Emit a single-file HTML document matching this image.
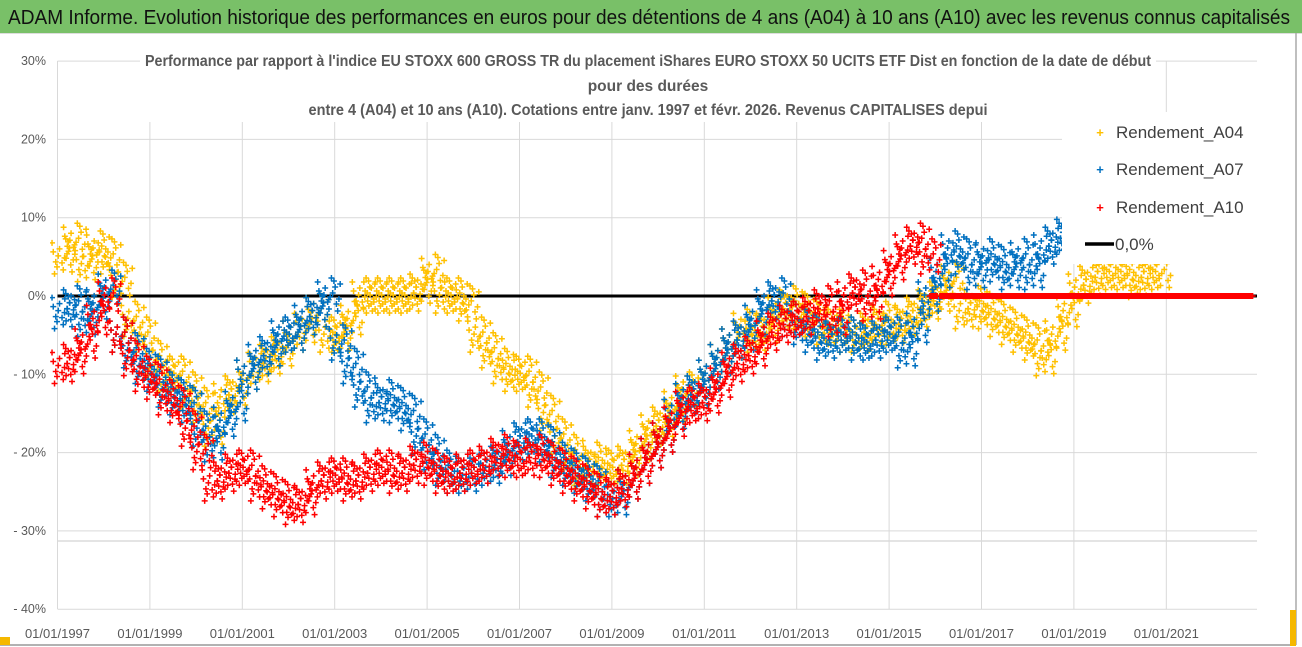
<!DOCTYPE html>
<html><head><meta charset="utf-8">
<style>
html,body{margin:0;padding:0;background:#fff;}
svg{display:block;font-family:"Liberation Sans Narrow","Liberation Sans",sans-serif;}
</style></head>
<body>
<svg id="chart" width="1302" height="647" viewBox="0 0 1302 647">
  <defs><clipPath id="plotclip"><rect x="50" y="40" width="1207" height="580"/></clipPath></defs>
  <rect x="0" y="0" width="1302" height="647" fill="#fff"/>
  <rect x="0" y="0" width="1302" height="33" fill="#79c068"/>
  <line x1="0" y1="33.5" x2="1302" y2="33.5" stroke="#ddd" stroke-width="1"/>
  <text x="8" y="24" font-size="20" fill="#111" textLength="1282" lengthAdjust="spacingAndGlyphs">ADAM Informe. Evolution historique des performances en euros pour des détentions de 4 ans (A04) à 10 ans (A10) avec les revenus connus capitalisés</text>
  <line x1="1296" y1="33" x2="1296" y2="645" stroke="#aaa" stroke-width="1.5"/>
  <line x1="0" y1="645" x2="1296" y2="645" stroke="#999" stroke-width="1.5"/>
  <rect x="1290" y="610" width="6" height="36" fill="#f5b800"/>
  <rect x="0" y="637" width="10" height="8" fill="#f5b800"/>
  <g id="grid"></g>
  <g id="ylabels"></g>
  <g id="xlabels"></g>
  <g id="marks" clip-path="url(#plotclip)"></g>
  <rect x="140" y="46" width="1016" height="76" fill="#fff"/>
  <g fill="#595959" font-size="15.5" font-weight="bold" text-anchor="middle">
    <text x="648" y="66" textLength="1006" lengthAdjust="spacingAndGlyphs">Performance par rapport à l'indice EU STOXX 600 GROSS TR  du placement iShares EURO STOXX 50 UCITS ETF Dist en fonction de la date de début</text>
    <text x="648" y="91">pour des durées</text>
    <text x="648" y="115" textLength="679" lengthAdjust="spacingAndGlyphs">entre 4 (A04) et 10 ans (A10). Cotations entre janv. 1997 et févr. 2026. Revenus CAPITALISES depui</text>
  </g>
  <g id="legend">
    <rect x="1062" y="112" width="195" height="152" fill="#fff"/>
    <g>
      <text x="1100" y="137" font-size="13" fill="#FFC000" text-anchor="middle" font-weight="bold">+</text>
      <text x="1116" y="138" font-size="17" fill="#404040">Rendement_A04</text>
    </g>
    <g>
      <text x="1100" y="174" font-size="13" fill="#0070C0" text-anchor="middle" font-weight="bold">+</text>
      <text x="1116" y="175" font-size="17" fill="#404040">Rendement_A07</text>
    </g>
    <g>
      <text x="1100" y="212" font-size="13" fill="#FF0000" text-anchor="middle" font-weight="bold">+</text>
      <text x="1116" y="213" font-size="17" fill="#404040">Rendement_A10</text>
    </g>
    <g>
      <line x1="1085" y1="244" x2="1114" y2="244" stroke="#000" stroke-width="3.5"/>
      <text x="1115" y="250" font-size="17" fill="#404040">0,0%</text>
    </g>
  </g>
</svg>
<script>
const yTicks = [30, 20, 10, 0, -10, -20, -30, -40];
const yTickLabels = ["30%", "20%", "10%", "0%", "- 10%", "- 20%", "- 30%", "- 40%"];
const xTickYears = [1997, 1999, 2001, 2003, 2005, 2007, 2009, 2011, 2013, 2015, 2017, 2019, 2021];
const xTickLabels = ["01/01/1997","01/01/1999","01/01/2001","01/01/2003","01/01/2005","01/01/2007","01/01/2009","01/01/2011","01/01/2013","01/01/2015","01/01/2017","01/01/2019","01/01/2021"];
const startYear = 1997;
const a04 = [5,7,4,6, 5,2,-3,-5, -8,-10,-10,-12, -14,-17,-13,-12, -10,-9,-8,-7, -5,-4,-2,-5, -5,-3,0,0, 0,0,0,1, 3,0,0,-1, -5,-7,-9,-10, -10,-12,-15,-18, -20,-22,-21,-22, -22,-21,-19,-17, -16,-14,-12,-12, -10,-8,-6,-4, -5,-4,-2,-1, -2,-3,-4,-4, -5,-5,-4,-3, -4,-3,-2,-1, 0,2,-2,-1, -2,-3,-4,-5, -6,-8,-5,-2, 1,2,3,3, 3,2,3,3];
const a07 = [-2,-1,-3,-1, 1,-5,-7,-9, -10,-12,-13,-14, -17,-19,-16,-14, -10,-8,-7,-5, -5,-3,-2,0, -6,-9,-12,-14, -13,-14,-15,-18, -20,-22,-23,-23, -22,-22,-21,-19, -18,-18,-19,-21, -22,-23,-24,-26, -26,-24,-22,-20, -18,-15,-13,-12, -10,-8,-6,-5, -3,-1,0,-3, -4,-5,-6,-5, -5,-6,-6,-5, -5,-7,-4,0, 3,6,5,3, 5,4,3,5, 3,6,7,8, 8];
const a10 = [-9,-8,-6,-3, 0,-5,-8,-10, -11,-13,-14,-17, -20,-24,-23,-22, -22,-24,-25,-26, -27,-26,-24,-23, -23,-24,-23,-22, -22,-23,-22,-21, -22,-23,-23,-22, -22,-21,-20,-21, -21,-20,-21,-22, -23,-24,-25,-26, -25,-24,-22,-20, -18,-16,-14,-14, -13,-11,-9,-8, -7,-5,-4,-3, -3,-2,-1,-3, 0,1,-1,2, 4,6,7,5, 0,0,0,0, 0,0,0,0, 0,0,0,0, 0,0,0,0, 0,0,0,0, 0,0,0,0, 0,0,0];

const NS = "http://www.w3.org/2000/svg";
const X0 = 57.5, PXY = 46.2, PLOT_R = 1257;
function xScale(year){ return X0 + (year - startYear) * PXY; }
function yScale(v){ return 296 - v * 7.83; }
function mk(tag, attrs, parent){ const e = document.createElementNS(NS, tag); for (const k in attrs) e.setAttribute(k, attrs[k]); parent.appendChild(e); return e; }

const grid = document.getElementById('grid');
yTicks.forEach((t, i) => {
  const l = mk('line', {x1: X0, x2: PLOT_R, y1: yScale(t), y2: yScale(t), stroke: '#d9d9d9', 'stroke-width': 1}, grid);
  
  
  const tx = mk('text', {x: 46, y: yScale(t) + 4, 'font-size': 12.5, fill: '#595959', 'text-anchor': 'end'}, document.getElementById('ylabels'));
  tx.textContent = yTickLabels[i];
  
  
});
const extra = mk('line', {x1: X0, x2: PLOT_R, y1: 541, y2: 541, stroke: '#c8c8c8', 'stroke-width': 1}, grid);


xTickYears.forEach((yr, i) => {
  const l = mk('line', {x1: xScale(yr), x2: xScale(yr), y1: 61, y2: 609, stroke: '#d9d9d9', 'stroke-width': 1}, grid);
  
  
  const tx = mk('text', {x: xScale(yr), y: 638, 'font-size': 13, fill: '#595959', 'text-anchor': 'middle'}, document.getElementById('xlabels'));
  tx.textContent = xTickLabels[i];
  
  
});

const marks = document.getElementById('marks');
const cluster = [[-9,-14],[-6,5],[-3,-8],[0,13],[3,-3],[6,8],[9,-12],[-7,17],[2,-18],[8,3],[-4,-1],[5,-9],[-1,6],[-8,-5],[7,15],[1,1],[-5,10],[4,-15]];
function drawSeries(vals, color, name){
  const g = mk('g', {stroke: color, 'stroke-width': 1.5}, marks);
  
  
  let d = '';
  vals.forEach((v, i) => {
    const cx = xScale(startYear + i * 0.25 + 0.125), cy = yScale(v);
    const spread = v === 0 && name === 'series-a10' && i >= 76 ? 0 : 1;
    cluster.forEach(([dx, dy]) => {
      const px = cx + dx * 1.25, py = cy + dy * spread;
      d += `M${px-3},${py}h6M${px},${py-3}v6`;
    });
  });
  const p = mk('path', {d: d, fill: 'none'}, g);
  
  
}
const zl = mk('line', {x1: X0, x2: PLOT_R, y1: yScale(0), y2: yScale(0), stroke: '#000', 'stroke-width': 3}, marks);


drawSeries(a04, '#FFC000', 'series-a04');
drawSeries(a07, '#0070C0', 'series-a07');
drawSeries(a10, '#FF0000', 'series-a10');
</script>
</body></html>
